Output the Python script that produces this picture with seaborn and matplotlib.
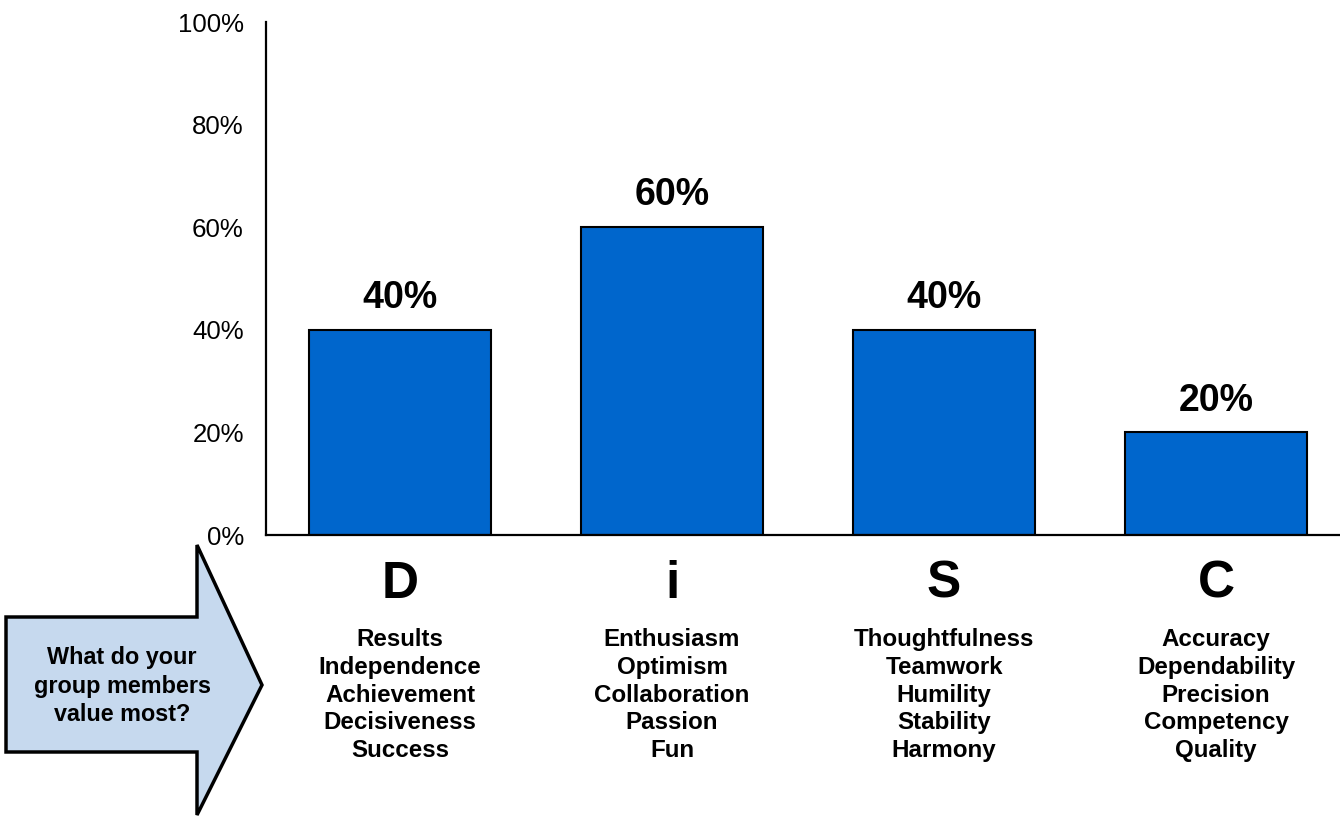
import matplotlib
matplotlib.use("Agg")
import matplotlib.pyplot as plt
import seaborn as sns
from matplotlib.patches import Polygon

styles = ["D", "i", "S", "C"]
shares = [40, 60, 40, 20]
values_words = [
    ["Results", "Independence", "Achievement", "Decisiveness", "Success"],
    ["Enthusiasm", "Optimism", "Collaboration", "Passion", "Fun"],
    ["Thoughtfulness", "Teamwork", "Humility", "Stability", "Harmony"],
    ["Accuracy", "Dependability", "Precision", "Competency", "Quality"],
]
y_ticks = [0, 20, 40, 60, 80, 100]
question = "What do your\ngroup members\nvalue most?"

sns.set_theme(style="white", rc={"text.color": "black", "axes.labelcolor": "black",
                                 "xtick.color": "black", "ytick.color": "black"})
plt.rcParams["font.family"] = ["Liberation Sans", "DejaVu Sans"]

fig = plt.figure(figsize=(13.4, 8.22), dpi=100)
ax = fig.add_axes([266 / 1340, 1 - 535 / 822, 1 - 266 / 1340, 513 / 822])

sns.barplot(x=styles, y=shares, color="#0066CC", saturation=1, width=0.667,
            edgecolor="black", linewidth=1.5, ax=ax)
ax.bar_label(ax.containers[0], labels=[f"{v}%" for v in shares],
             padding=10, fontsize=27, fontweight="bold")

ax.set_ylim(0, 100)
ax.set_xlim(-0.493, 3.456)
ax.set_yticks(y_ticks)
ax.set_yticklabels([f"{t}%" for t in y_ticks], fontsize=18.6)
ax.tick_params(axis="y", length=0, pad=16)
ax.tick_params(axis="x", bottom=False, labelbottom=False)
for s in ["top", "right"]:
    ax.spines[s].set_visible(False)
for s in ["left", "bottom"]:
    ax.spines[s].set_color("black")
    ax.spines[s].set_linewidth(1.6)

tr = ax.get_xaxis_transform()
for i, (letter, words) in enumerate(zip(styles, values_words)):
    ax.text(i, -0.096, letter, transform=tr, ha="center", va="center",
            fontsize=37, fontweight="bold", clip_on=False)
    ax.text(i, -0.312, "\n".join(words), transform=tr, ha="center", va="center",
            fontsize=17.4, fontweight="bold", linespacing=1.27, clip_on=False)

# arrow with the question
ov = fig.add_axes([0, 0, 1, 1], facecolor="none")
ov.set_xlim(0, 1340)
ov.set_ylim(822, 0)
ov.axis("off")
arrow = Polygon([(6, 617), (197, 617), (197, 545), (262, 685), (197, 815),
                 (197, 752), (6, 752)], closed=True,
                facecolor="#C6D9EE", edgecolor="black", linewidth=2.5)
ov.add_patch(arrow)
ov.text(122, 686, question, ha="center", va="center", fontsize=16.8,
        fontweight="bold", linespacing=1.28)

fig.savefig("out.png", dpi=100)
